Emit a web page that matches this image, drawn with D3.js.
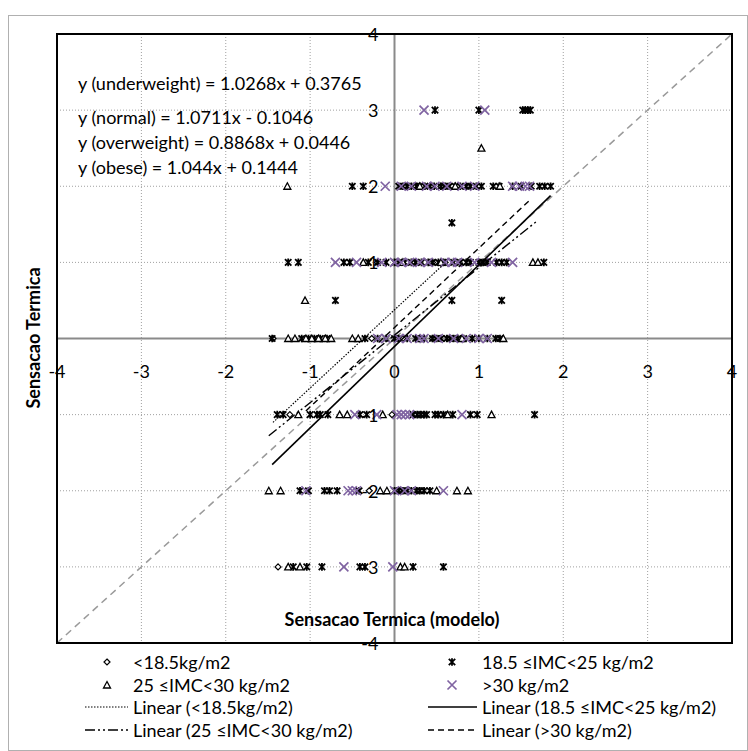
<!DOCTYPE html>
<html>
<head>
<meta charset="utf-8">
<script src="https://cdn.jsdelivr.net/npm/d3@7"></script>
<style>
  html, body { margin: 0; padding: 0; background: #fff; }
  svg { display: block; }
  text { font-family: Lato, "Open Sans", sans-serif; fill: #000; }
</style>
</head>
<body>
<svg id="chart" width="748" height="751"></svg>
<script>
// ---------- data ----------
const seriesNames = ["<18.5kg/m2", "18.5 \u2264IMC<25 kg/m2", "25 \u2264IMC<30 kg/m2", ">30 kg/m2"];
const trendNames = ["Linear (<18.5kg/m2)", "Linear (18.5 \u2264IMC<25 kg/m2)", "Linear (25 \u2264IMC<30 kg/m2)", "Linear (>30 kg/m2)"];
const equations = [
  "y (underweight) = 1.0268x + 0.3765",
  "y (normal) = 1.0711x - 0.1046",
  "y (overweight) = 0.8868x + 0.0446",
  "y (obese) = 1.044x + 0.1444"
];
const slopes = [1.0268, 1.0711, 0.8868, 1.044];
const intercepts = [0.3765, -0.1046, 0.0446, 0.1444];
const xTicks = [-4, -3, -2, -1, 0, 1, 2, 3, 4];
const yTicks = [-4, -3, -2, -1, 0, 1, 2, 3, 4];

const underweightPts = [
  [0.25, 2], [0.55, 2],
  [-0.2, 1], [0.45, 1], [0.6, 1],
  [-1.44, 0], [-0.27, 0], [0.1, 0], [0.45, 0],
  [-1.24, -1], [-0.03, -1],
  [-0.3, -2], [0.05, -2],
  [-1.38, -3]
];
const normalPts = [
  [0.48, 3], [1.0, 3], [1.52, 3], [1.55, 3], [1.58, 3], [1.61, 3],
  [-0.5, 2], [-0.37, 2], [0.05, 2], [0.1, 2], [0.15, 2], [0.2, 2], [0.26, 2], [0.3, 2], [0.36, 2], [0.42, 2],
  [0.47, 2], [0.55, 2], [0.6, 2], [0.65, 2], [0.72, 2], [0.78, 2], [0.85, 2], [0.9, 2], [0.97, 2], [1.03, 2],
  [1.17, 2], [1.24, 2], [1.4, 2], [1.5, 2], [1.62, 2], [1.72, 2], [1.78, 2], [1.85, 2],
  [0.68, 1.52],
  [-1.26, 1], [-1.14, 1], [-0.6, 1], [-0.53, 1], [-0.31, 1], [-0.2, 1], [-0.1, 1], [0, 1], [0.05, 1], [0.12, 1],
  [0.2, 1], [0.25, 1], [0.32, 1], [0.4, 1], [0.45, 1], [0.52, 1], [0.58, 1], [0.7, 1], [0.78, 1], [0.85, 1],
  [0.9, 1], [1.0, 1], [1.05, 1], [1.1, 1], [1.21, 1], [1.27, 1], [1.33, 1], [1.77, 1],
  [-0.7, 0.5], [0.68, 0.5], [1.27, 0.5],
  [-1.45, 0], [-1.1, 0], [-1.02, 0], [-0.95, 0], [-0.88, 0], [-0.8, 0], [-0.35, 0], [-0.2, 0], [-0.1, 0], [0.0, 0],
  [0.05, 0], [0.15, 0], [0.25, 0], [0.35, 0], [0.45, 0], [0.5, 0], [0.55, 0], [0.62, 0], [0.66, 0], [0.7, 0],
  [0.75, 0], [0.82, 0], [0.92, 0], [1.0, 0], [1.1, 0], [1.2, 0], [1.25, 0],
  [-1.39, -1], [-1.32, -1], [-1.0, -1], [-0.92, -1], [-0.88, -1], [-0.79, -1], [-0.41, -1], [-0.33, -1], [0.22, -1],
  [0.27, -1], [0.31, -1], [0.35, -1], [0.38, -1], [0.48, -1], [0.52, -1], [0.58, -1], [0.69, -1], [0.9, -1],
  [0.98, -1], [1.66, -1],
  [-1.12, -2], [-1.02, -2], [-0.83, -2], [-0.77, -2], [-0.68, -2], [-0.42, -2], [0.0, -2], [0.05, -2], [0.1, -2],
  [0.15, -2], [0.2, -2], [0.26, -2], [0.3, -2], [0.35, -2], [0.42, -2],
  [-1.2, -3], [-1.04, -3], [-0.86, -3], [-0.41, -3], [-0.35, -3], [0.22, -3], [0.58, -3]
];
const overweightPts = [
  [1.03, 2.5],
  [-1.27, 2], [0.3, 2], [0.72, 2], [1.25, 2],
  [-0.37, 1], [0.1, 1], [0.55, 1], [1.64, 1], [1.7, 1],
  [-1.06, 0.5],
  [-1.26, 0], [-1.18, 0], [-1.05, 0], [-0.98, 0], [-0.9, 0], [-0.82, 0], [-0.75, 0], [-0.5, 0], [-0.43, 0],
  [0.3, 0], [0.8, 0], [1.29, 0],
  [-1.14, -1], [-0.65, -1], [-0.56, -1], [-0.14, -1], [0.63, -1], [1.15, -1],
  [-1.49, -2], [-1.35, -2], [-0.17, -2], [-0.09, -2], [0.5, -2], [0.74, -2], [0.87, -2],
  [-1.26, -3], [-1.12, -3], [0.07, -3], [0.12, -3]
];
const obesePts = [
  [0.35, 3], [1.07, 3],
  [-0.11, 2], [0.08, 2], [0.2, 2], [0.38, 2], [0.48, 2], [0.62, 2], [0.8, 2], [0.95, 2], [1.4, 2], [1.48, 2],
  [1.55, 2], [1.6, 2],
  [-0.7, 1], [-0.45, 1], [-0.15, 1], [0.0, 1], [0.08, 1], [0.18, 1], [0.3, 1], [0.4, 1], [0.6, 1], [0.68, 1],
  [0.75, 1], [0.95, 1], [1.15, 1], [1.4, 1],
  [-0.2, 0], [-0.1, 0], [0.05, 0], [0.15, 0], [0.3, 0], [0.35, 0], [0.52, 0], [0.7, 0], [0.85, 0], [1.0, 0], [1.1, 0],
  [-0.47, -1], [-0.21, -1], [0.03, -1], [0.08, -1], [0.13, -1], [0.18, -1], [0.8, -1],
  [-1.05, -2], [-0.55, -2], [-0.5, -2], [-0.45, -2], [0.0, -2], [0.12, -2], [0.2, -2], [0.58, -2],
  [-0.6, -3], [-0.02, -3]
];
const allSeries = [underweightPts, normalPts, overweightPts, obesePts];

// ---------- layout ----------
const svg = d3.select("#chart");
const plot = { left: 57, right: 732, top: 34, bottom: 643 };
const x = d3.scaleLinear().domain([-4, 4]).range([plot.left, plot.right]);
const y = d3.scaleLinear().domain([-4, 4]).range([plot.bottom, plot.top]);
const purple = "#8064a2";
const gridColor = "#a0a0a0";
const axisColor = "#8a8a8a";
const FONT = 18;

// outer chart frame
svg.append("rect").attr("x", 8.5).attr("y", 15.5).attr("width", 739).attr("height", 735)
  .attr("fill", "none").attr("stroke", "#b0b0b0").attr("stroke-width", 1);

// gridlines
const g = svg.append("g");
g.selectAll("line.vg").data(xTicks.filter(d => d !== 0 && Math.abs(d) !== 4)).join("line")
  .attr("x1", d => x(d)).attr("x2", d => x(d)).attr("y1", plot.top).attr("y2", plot.bottom)
  .attr("stroke", gridColor).attr("stroke-width", 1).attr("stroke-dasharray", "1,2");
g.selectAll("line.hg").data(yTicks.filter(d => d !== 0 && Math.abs(d) !== 4)).join("line")
  .attr("x1", plot.left).attr("x2", plot.right).attr("y1", d => y(d)).attr("y2", d => y(d))
  .attr("stroke", gridColor).attr("stroke-width", 1).attr("stroke-dasharray", "1,2");

// axes through zero
g.append("line").attr("x1", x(0)).attr("x2", x(0)).attr("y1", plot.top).attr("y2", plot.bottom)
  .attr("stroke", axisColor).attr("stroke-width", 2);
g.append("line").attr("x1", plot.left).attr("x2", plot.right).attr("y1", y(0)).attr("y2", y(0))
  .attr("stroke", axisColor).attr("stroke-width", 2);

// diagonal y = x reference
g.append("line").attr("x1", x(-4)).attr("y1", y(-4)).attr("x2", x(4)).attr("y2", y(4))
  .attr("stroke", "#9a9a9a").attr("stroke-width", 1.5).attr("stroke-dasharray", "7,5");

// plot border
svg.append("rect").attr("x", plot.left).attr("y", plot.top)
  .attr("width", plot.right - plot.left).attr("height", plot.bottom - plot.top)
  .attr("fill", "none").attr("stroke", "#000").attr("stroke-width", 2);

// ---------- markers ----------
function drawMarker(sel, type) {
  if (type === 0) {
    sel.append("path").attr("d", "M0,-3L3,0L0,3L-3,0Z").attr("fill", "#fff").attr("stroke", "#000").attr("stroke-width", 1.2);
  } else if (type === 1) {
    sel.append("path").attr("d", "M-3.2,-3.2L3.2,3.2M-3.2,3.2L3.2,-3.2M0,-3.8L0,3.8").attr("fill", "none").attr("stroke", "#000").attr("stroke-width", 1.8);
  } else if (type === 2) {
    sel.append("path").attr("d", "M0,-3.5L3.5,3L-3.5,3Z").attr("fill", "#fff").attr("stroke", "#000").attr("stroke-width", 1.3);
  } else {
    sel.append("path").attr("d", "M-4.5,-4.5L4.5,4.5M-4.5,4.5L4.5,-4.5").attr("fill", "none").attr("stroke", purple).attr("stroke-width", 1.7);
  }
}

const trendStyles = [
  { dash: "1.5,1.5", width: 1.2 },
  { dash: null, width: 1.6 },
  { dash: "10,3,2,3,2,3", width: 1.4 },
  { dash: "6,4", width: 1.4 }
];

const pointsG = svg.append("g");
allSeries.forEach((pts, i) => {
  const sg = pointsG.append("g");
  sg.selectAll("g").data(pts).join("g")
    .attr("transform", d => `translate(${x(d[0])},${y(d[1])})`)
    .each(function () { drawMarker(d3.select(this), i); });
});
allSeries.forEach((pts, i) => {
  const ext = d3.extent(pts, d => d[0]);
  const line = d3.line().x(d => x(d)).y(d => y(slopes[i] * d + intercepts[i]));
  const p = pointsG.append("path").attr("d", line(ext)).attr("fill", "none")
    .attr("stroke", "#000").attr("stroke-width", trendStyles[i].width);
  if (trendStyles[i].dash) p.attr("stroke-dasharray", trendStyles[i].dash);
});

// ---------- tick labels ----------
const lab = svg.append("g").attr("font-size", FONT);
lab.selectAll("text.xt").data(xTicks.filter(d => d !== 0)).join("text")
  .attr("x", d => x(d)).attr("y", y(0) + 32).attr("text-anchor", "middle").attr("dominant-baseline", "central")
  .text(d => d);
lab.append("text").attr("x", x(0)).attr("y", y(0) + 32).attr("text-anchor", "middle").attr("dominant-baseline", "central").text("0");
lab.selectAll("text.yt").data(yTicks.filter(d => d !== 0)).join("text")
  .attr("x", x(0) - 16).attr("y", d => y(d)).attr("text-anchor", "end").attr("dominant-baseline", "central")
  .text(d => d);

// axis titles
svg.append("text").attr("x", 392).attr("y", 619).attr("text-anchor", "middle").attr("dominant-baseline", "central")
  .attr("font-size", FONT).attr("font-weight", "bold").text("Sensacao Termica (modelo)");
svg.append("text").attr("transform", "translate(33,338) rotate(-90)").attr("text-anchor", "middle")
  .attr("dominant-baseline", "central").attr("font-size", FONT).attr("font-weight", "bold").text("Sensacao Termica");

// equations
const eqY = [83, 117, 142, 167];
svg.append("g").selectAll("text").data(equations).join("text")
  .attr("x", 78).attr("y", (d, i) => eqY[i]).attr("dominant-baseline", "central").attr("font-size", FONT)
  .text(d => d);

// ---------- legend ----------
const legRows = [662, 685, 707, 730];
const leg = svg.append("g").attr("font-size", FONT);
const colMarkerX = [107, 452];
const colTextX = [133, 482];
const colLine = [[85, 128], [428, 477]];
seriesNames.forEach((name, i) => {
  const col = i % 2, row = Math.floor(i / 2);
  const mg = leg.append("g").attr("transform", `translate(${colMarkerX[col]},${legRows[row]})`);
  drawMarker(mg, i);
  leg.append("text").attr("x", colTextX[col]).attr("y", legRows[row]).attr("dominant-baseline", "central").text(name);
});
trendNames.forEach((name, i) => {
  const col = i % 2, row = 2 + Math.floor(i / 2);
  const l = leg.append("line").attr("x1", colLine[col][0]).attr("x2", colLine[col][1])
    .attr("y1", legRows[row]).attr("y2", legRows[row]).attr("stroke", "#000").attr("stroke-width", trendStyles[i].width);
  if (trendStyles[i].dash) l.attr("stroke-dasharray", trendStyles[i].dash);
  leg.append("text").attr("x", colTextX[col]).attr("y", legRows[row]).attr("dominant-baseline", "central").text(name);
});
</script>
</body>
</html>
